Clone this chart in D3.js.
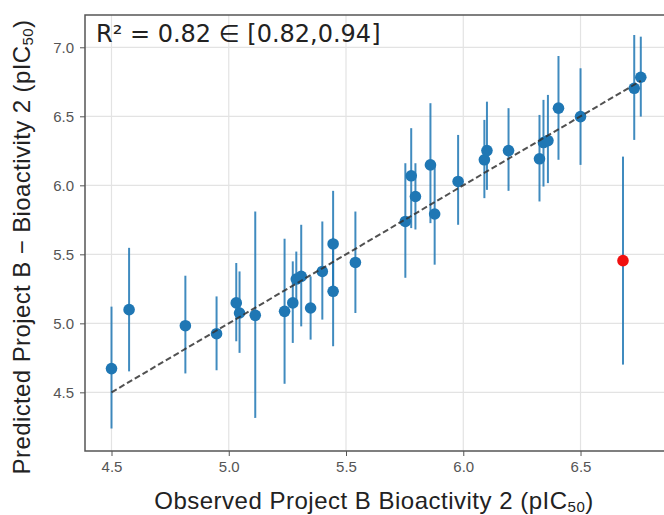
<!DOCTYPE html>
<html>
<head>
<meta charset="utf-8">
<script src="https://cdn.jsdelivr.net/npm/d3@7"></script>
<style>
  body { margin: 0; background: #fff; }
  text { font-family: "Liberation Sans", Arial, sans-serif; }
</style>
</head>
<body>
<script>
// observed vs predicted values
var observed = [4.50, 4.575, 4.815, 4.948, 5.032, 5.046, 5.113, 5.238, 5.273, 5.288, 5.309,
                5.349, 5.399, 5.445, 5.445, 5.54, 5.753, 5.778, 5.796, 5.86, 5.878, 5.978,
                6.09, 6.101, 6.193, 6.325, 6.342, 6.361, 6.406, 6.50, 6.729, 6.757];
var predicted = [4.672, 5.099, 4.983, 4.925, 5.148, 5.075, 5.058, 5.087, 5.148, 5.321, 5.34,
                 5.111, 5.376, 5.575, 5.232, 5.441, 5.738, 6.069, 5.919, 6.148, 5.792, 6.028,
                 6.185, 6.252, 6.252, 6.192, 6.31, 6.324, 6.559, 6.498, 6.703, 6.783];
var upper = [5.121, 5.547, 5.345, 5.195, 5.437, 5.376, 5.81, 5.613, 5.449, 5.52, 5.714,
             5.34, 5.738, 5.96, 5.62, 5.81, 6.16, 6.414, 6.16, 6.595, 6.16, 6.365,
             6.474, 6.606, 6.559, 6.51, 6.619, 6.655, 6.937, 6.848, 7.089, 7.077];
var lower = [4.238, 4.652, 4.637, 4.66, 4.87, 4.786, 4.315, 4.562, 4.858, 5.12, 4.978,
             4.882, 5.027, 5.2, 4.834, 5.075, 5.33, 5.69, 5.68, 5.726, 5.425, 5.714,
             5.907, 5.967, 5.96, 5.883, 5.991, 6.016, 6.185, 6.148, 6.329, 6.498];

// the one outlier drawn in red
var outlierObserved = 6.681;
var outlierPredicted = 5.454;
var outlierUpper = 6.208;
var outlierLower = 4.701;

var xTicks = [4.5, 5.0, 5.5, 6.0, 6.5];
var yTicks = [4.5, 5.0, 5.5, 6.0, 6.5, 7.0];
var diagonal = [4.5, 6.757];
var r2Text = "R\u00b2 = 0.82 \u2208 [0.82,0.94]";

var width = 664, height = 515;
var margin = {top: 15, right: -4, bottom: 64, left: 85};

var svg = d3.select("body").append("svg")
  .attr("width", width)
  .attr("height", height);

var x = d3.scaleLinear()
  .domain([4.387, 6.873])
  .range([margin.left, width - margin.right]);

var y = d3.scaleLinear()
  .domain([4.075, 7.234])
  .range([height - margin.bottom, margin.top]);

var blue = "#1f77b4";

// grid
svg.append("g").selectAll("line.gx")
  .data(xTicks).enter().append("line")
  .attr("x1", function(d) { return x(d); })
  .attr("x2", function(d) { return x(d); })
  .attr("y1", y.range()[0])
  .attr("y2", y.range()[1])
  .attr("stroke", "#e3e3e3")
  .attr("stroke-width", 1.2);

svg.append("g").selectAll("line.gy")
  .data(yTicks).enter().append("line")
  .attr("x1", x.range()[0])
  .attr("x2", x.range()[1])
  .attr("y1", function(d) { return y(d); })
  .attr("y2", function(d) { return y(d); })
  .attr("stroke", "#e3e3e3")
  .attr("stroke-width", 1.2);

// axes
var xAxis = svg.append("g")
  .attr("transform", "translate(0," + y.range()[0] + ")")
  .call(d3.axisBottom(x).tickValues(xTicks).tickFormat(d3.format(".1f")).tickSize(5).tickPadding(5));

var yAxis = svg.append("g")
  .attr("transform", "translate(" + x.range()[0] + ",0)")
  .call(d3.axisLeft(y).tickValues(yTicks).tickFormat(d3.format(".1f")).tickSize(5).tickPadding(6));

[xAxis, yAxis].forEach(function(a) {
  a.select(".domain").remove();
  a.selectAll(".tick line").attr("stroke", "#555");
  a.selectAll(".tick text")
    .attr("fill", "#555")
    .style("font-size", "15px")
    .style("font-family", "Liberation Sans, Arial, sans-serif");
});

// frame
svg.append("rect")
  .attr("x", x.range()[0])
  .attr("y", y.range()[1])
  .attr("width", x.range()[1] - x.range()[0])
  .attr("height", y.range()[0] - y.range()[1])
  .attr("fill", "none")
  .attr("stroke", "#555")
  .attr("stroke-width", 1.5);

// error bars
svg.append("g").selectAll("line.err")
  .data(observed).enter().append("line")
  .attr("x1", function(d) { return x(d); })
  .attr("x2", function(d) { return x(d); })
  .attr("y1", function(d, i) { return y(upper[i]); })
  .attr("y2", function(d, i) { return y(lower[i]); })
  .attr("stroke", blue)
  .attr("stroke-opacity", 0.85)
  .attr("stroke-width", 2);

svg.append("line")
  .attr("x1", x(outlierObserved))
  .attr("x2", x(outlierObserved))
  .attr("y1", y(outlierUpper))
  .attr("y2", y(outlierLower))
  .attr("stroke", blue)
  .attr("stroke-opacity", 0.85)
  .attr("stroke-width", 2);

// points
svg.append("g").selectAll("circle")
  .data(observed).enter().append("circle")
  .attr("cx", function(d) { return x(d); })
  .attr("cy", function(d, i) { return y(predicted[i]); })
  .attr("r", 5.8)
  .attr("fill", blue);

svg.append("circle")
  .attr("cx", x(outlierObserved))
  .attr("cy", y(outlierPredicted))
  .attr("r", 5.8)
  .attr("fill", "#f01010");

// y = x line
svg.append("line")
  .attr("x1", x(diagonal[0]))
  .attr("y1", y(diagonal[0]))
  .attr("x2", x(diagonal[1]))
  .attr("y2", y(diagonal[1]))
  .attr("stroke", "#333")
  .attr("stroke-opacity", 0.85)
  .attr("stroke-width", 2)
  .attr("stroke-dasharray", "6,3");

// annotation
svg.append("text")
  .attr("x", 96)
  .attr("y", 42)
  .attr("fill", "#222")
  .style("font-family", "DejaVu Sans, sans-serif")
  .style("font-size", "24px")
  .text(r2Text);

// axis labels
var xl = svg.append("text")
  .attr("x", 374)
  .attr("y", 509)
  .attr("text-anchor", "middle")
  .attr("fill", "#222")
  .style("font-size", "24px")
  .style("letter-spacing", "0.5px");
xl.append("tspan").text("Observed Project B Bioactivity 2 (pIC");
xl.append("tspan").style("font-size", "15px").attr("dy", 3).text("50");
xl.append("tspan").attr("dy", -3).text(")");

var yl = svg.append("text")
  .attr("transform", "translate(30,247) rotate(-90)")
  .attr("text-anchor", "middle")
  .attr("fill", "#222")
  .style("font-size", "24px")
  .style("letter-spacing", "0.4px");
yl.append("tspan").text("Predicted Project B \u2212 Bioactivity 2 (pIC");
yl.append("tspan").style("font-size", "15px").attr("dy", 3).text("50");
yl.append("tspan").attr("dy", -3).text(")");
</script>
</body>
</html>
